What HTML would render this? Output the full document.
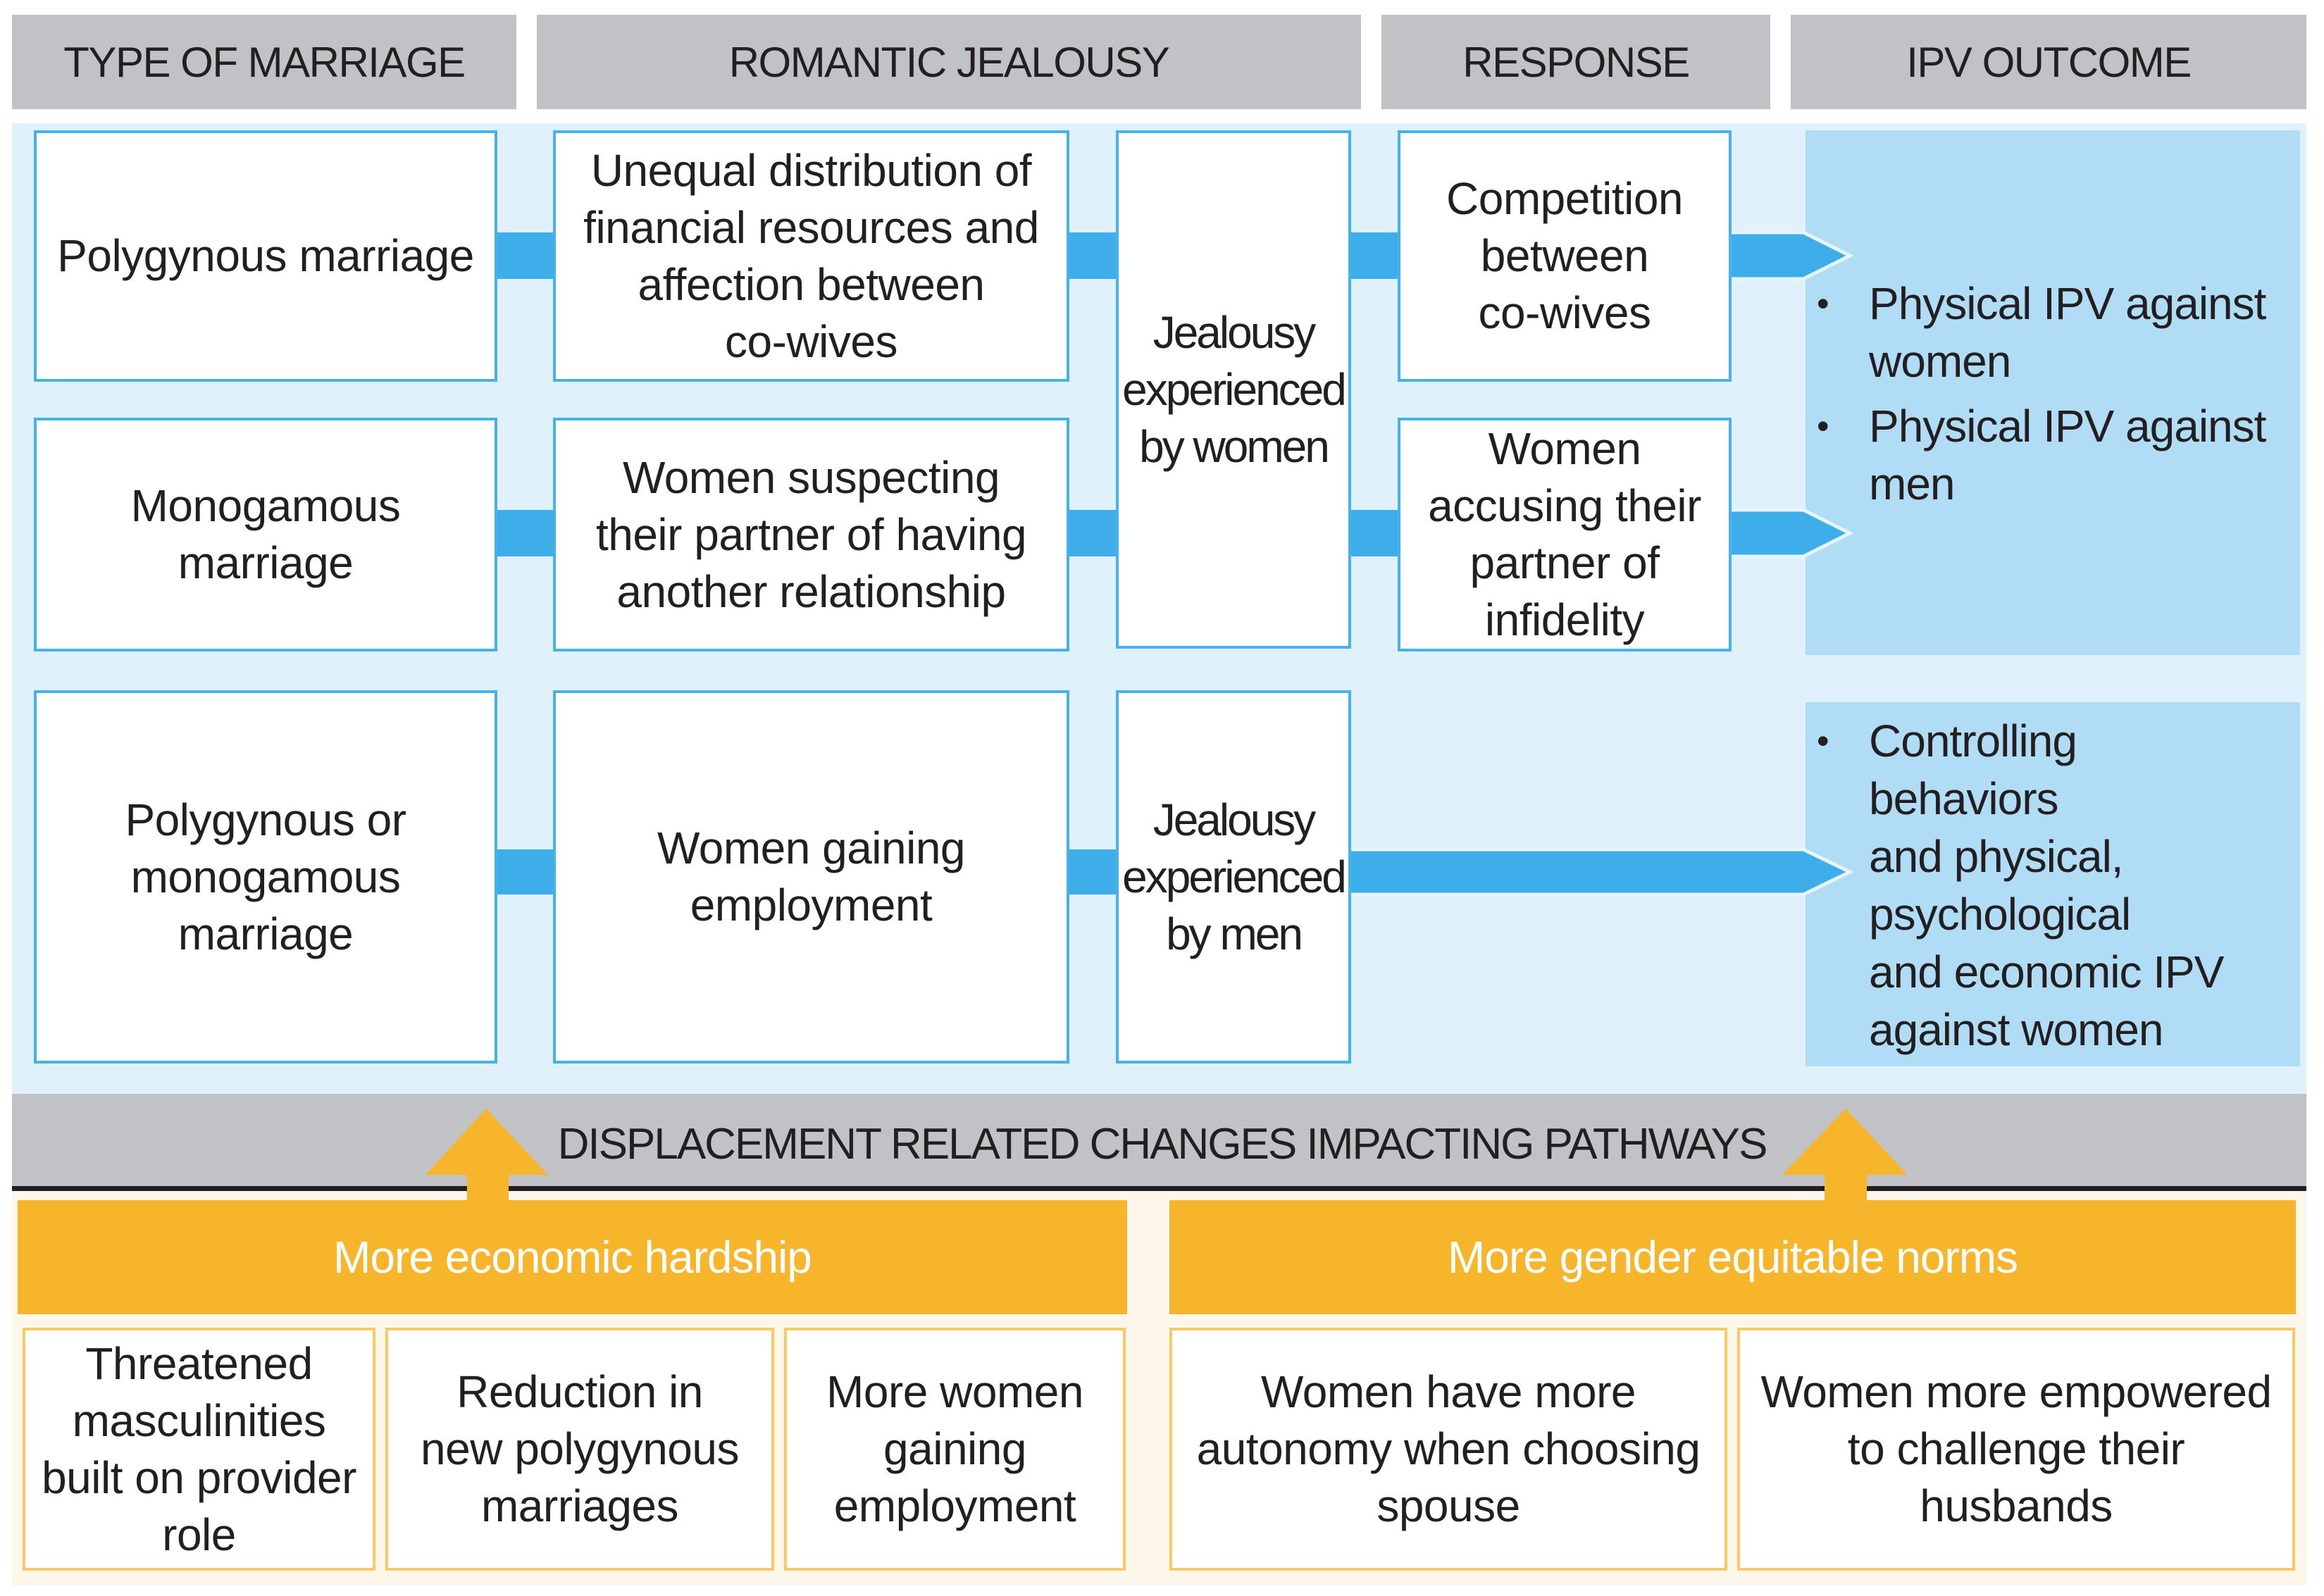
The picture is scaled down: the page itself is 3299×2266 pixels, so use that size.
<!DOCTYPE html>
<html><head><meta charset="utf-8"><style>
body{margin:0;width:3299px;height:2266px;background:#fff;position:relative;overflow:hidden;font-family:"Liberation Sans",sans-serif;color:#231f20}
.a{position:absolute;box-sizing:border-box}
.hd{background:#c1c2c6;display:flex;align-items:center;justify-content:center;font-size:60px;letter-spacing:-1.5px}
.bx{background:#fff;border:4px solid #46b2ea;display:flex;align-items:center;justify-content:center;text-align:center;font-size:64px;line-height:81px;letter-spacing:-0.5px}
.ob{background:#fff;border:4px solid #f9c963;display:flex;align-items:center;justify-content:center;text-align:center;font-size:64px;line-height:81px;letter-spacing:-0.5px}
.bar{background:#3daee9}
.ipv{background:#b0dcf6;font-size:64px;line-height:82px;letter-spacing:-1px}
.ipv ul{margin:0;padding:0;list-style:none}
.ipv li{position:relative;padding-left:90px}
.ipv li:before{content:"•";position:absolute;left:16px;font-size:50px}
.org{background:#f7b52c;color:#fff;display:flex;align-items:center;justify-content:center;font-size:64px;letter-spacing:-1px}
</style></head><body>
<div class="a hd" style="left:17px;top:21px;width:716px;height:134px">TYPE OF MARRIAGE</div>
<div class="a hd" style="left:762px;top:21px;width:1170px;height:134px">ROMANTIC JEALOUSY</div>
<div class="a hd" style="left:1961px;top:21px;width:552px;height:134px">RESPONSE</div>
<div class="a hd" style="left:2542px;top:21px;width:732px;height:134px">IPV OUTCOME</div>

<div class="a" style="left:17px;top:175px;width:3257px;height:1380px;background:#e0f1fb"></div>

<div class="a bar" style="left:700px;top:330px;width:90px;height:66px"></div>
<div class="a bar" style="left:1512px;top:330px;width:77px;height:66px"></div>
<div class="a bar" style="left:1912px;top:330px;width:77px;height:66px"></div>
<div class="a bar" style="left:700px;top:724px;width:90px;height:66px"></div>
<div class="a bar" style="left:1512px;top:724px;width:77px;height:66px"></div>
<div class="a bar" style="left:1912px;top:724px;width:77px;height:66px"></div>
<div class="a bar" style="left:700px;top:1206px;width:90px;height:64px"></div>
<div class="a bar" style="left:1512px;top:1206px;width:77px;height:64px"></div>

<div class="a ipv" style="left:2563px;top:185px;width:702px;height:745px;padding-top:391px;padding-top:390px"></div>
<div class="a ipv" style="left:2563px;top:185px;width:702px;height:745px;padding-top:391px;padding-top:390px;background:none;padding-top:0"><div style="padding-top:390px"></div></div>
<div class="a ipv" style="left:2563px;top:185px;width:702px;height:745px;padding-top:390px;background:none"></div>
<div class="a" style="left:2563px;top:390px;width:702px;font-size:64px;line-height:82px;letter-spacing:-1px"><div style="position:relative;padding-left:90px"><span style="position:absolute;left:16px;font-size:50px">•</span>Physical IPV against<br>women</div><div style="position:relative;padding-left:90px;margin-top:10px"><span style="position:absolute;left:16px;font-size:50px">•</span>Physical IPV against<br>men</div></div>
<div class="a ipv" style="left:2563px;top:997px;width:702px;height:517px;padding-top:14px"><ul><li>Controlling<br>behaviors<br>and physical,<br>psychological<br>and economic IPV<br>against women</li></ul></div>

<svg class="a" style="left:0;top:0" width="3299" height="2266">
<g fill="#3daee9" stroke="#e8f5fd" stroke-width="5">
<polygon points="2455,330 2560,330 2626,363 2560,396 2455,396"/>
<polygon points="2455,724 2560,724 2626,757 2560,790 2455,790"/>
<polygon points="1915,1206 2560,1206 2626,1238 2560,1270 1915,1270"/>
</g>
</svg>

<div class="a bx" style="left:48px;top:185px;width:658px;height:357px">Polygynous marriage</div>
<div class="a bx" style="left:785px;top:185px;width:733px;height:357px">Unequal distribution of<br>financial resources and<br>affection between<br>co-wives</div>
<div class="a bx" style="left:1584px;top:185px;width:334px;height:736px;letter-spacing:-3px">Jealousy<br>experienced<br>by women</div>
<div class="a bx" style="left:1984px;top:185px;width:474px;height:357px">Competition<br>between<br>co-wives</div>
<div class="a bx" style="left:48px;top:593px;width:658px;height:332px">Monogamous<br>marriage</div>
<div class="a bx" style="left:785px;top:593px;width:733px;height:332px">Women suspecting<br>their partner of having<br>another relationship</div>
<div class="a bx" style="left:1984px;top:593px;width:474px;height:332px">Women<br>accusing their<br>partner of<br>infidelity</div>
<div class="a bx" style="left:48px;top:980px;width:658px;height:530px">Polygynous or<br>monogamous<br>marriage</div>
<div class="a bx" style="left:785px;top:980px;width:733px;height:530px">Women gaining<br>employment</div>
<div class="a bx" style="left:1584px;top:980px;width:334px;height:530px;letter-spacing:-3px">Jealousy<br>experienced<br>by men</div>

<div class="a" style="left:17px;top:1553px;width:3257px;height:132px;background:#c1c2c6"></div>
<div class="a" style="left:17px;top:1684px;width:3257px;height:7px;background:#231f20"></div>
<div class="a" style="left:17px;top:1691px;width:3257px;height:560px;background:#fdf6ea"></div>
<div class="a" style="left:0;top:1590px;width:3299px;text-align:center;font-size:62px;letter-spacing:-2px;line-height:70px">DISPLACEMENT RELATED CHANGES IMPACTING PATHWAYS</div>
<svg class="a" style="left:0;top:0" width="3299" height="2266">
<g fill="#f7b52c">
<polygon points="690,1574 778,1668 722,1668 722,1710 663,1710 663,1668 604,1668"/>
<polygon points="2620,1574 2708,1668 2650,1668 2650,1710 2590,1710 2590,1668 2530,1668"/>
</g>
</svg>
<div class="a org" style="left:25px;top:1704px;width:1575px;height:162px">More economic hardship</div>
<div class="a org" style="left:1660px;top:1704px;width:1599px;height:162px">More gender equitable norms</div>

<div class="a ob" style="left:32px;top:1885px;width:501px;height:345px">Threatened<br>masculinities<br>built on provider<br>role</div>
<div class="a ob" style="left:547px;top:1885px;width:552px;height:345px">Reduction in<br>new polygynous<br>marriages</div>
<div class="a ob" style="left:1113px;top:1885px;width:485px;height:345px">More women<br>gaining<br>employment</div>
<div class="a ob" style="left:1660px;top:1885px;width:792px;height:345px">Women have more<br>autonomy when choosing<br>spouse</div>
<div class="a ob" style="left:2466px;top:1885px;width:792px;height:345px">Women more empowered<br>to challenge their<br>husbands</div>
</body></html>
